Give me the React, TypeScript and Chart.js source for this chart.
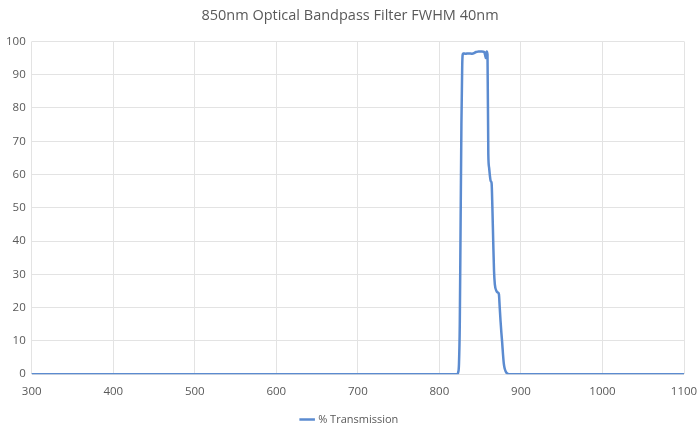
import React, { useEffect, useRef } from "react";
import { Chart, registerables } from "chart.js";

Chart.register(...registerables);

const titleText = "850nm Optical Bandpass Filter FWHM 40nm";
const seriesName = "% Transmission";

const wavelengths = [
  300, 400, 500, 600, 700, 800, 820, 822, 823, 824, 825, 826, 827, 828, 829,
  832, 836, 840, 845, 848, 852, 855, 856, 857, 858, 859, 860, 861, 862, 863,
  864, 865, 866, 867, 868, 870, 872, 873, 874, 875, 876, 877, 878, 879, 880,
  881, 882, 884, 886, 890, 900, 1000, 1100,
];
const transmission = [
  0, 0, 0, 0, 0, 0, 0, 0, 0.5, 3, 15, 45, 75, 93, 96.4,
  96.3, 96.4, 96.3, 96.8, 97, 97, 96.8, 96, 95, 97, 96, 66, 62, 59.5, 58,
  57.5, 50, 40, 31, 27, 25, 24.5, 24, 20, 16, 12.5, 9.5, 6, 3.2, 1.8,
  1, 0.5, 0.1, 0, 0, 0, 0, 0,
];

const xMin = 300;
const xMax = 1100;
const xStep = 100;
const yMin = 0;
const yMax = 100;
const yStep = 10;

const textColor = "#595959";
const gridColor = "#e3e3e3";
const lineColor = "#5b8bd0";
const fontFamily = "'Open Sans', 'Noto Sans', sans-serif";

export default function App() {
  const ref = useRef<HTMLCanvasElement | null>(null);

  useEffect(() => {
    document.body.style.margin = "0";
    const canvas = ref.current;
    if (!canvas) return;
    const points = wavelengths.map((x, i) => ({ x, y: transmission[i] }));
    const chart = new Chart(canvas, {
      type: "line",
      data: {
        datasets: [
          {
            label: seriesName,
            data: points,
            borderColor: lineColor,
            backgroundColor: lineColor,
            borderWidth: 2.5,
            borderJoinStyle: "round",
            borderCapStyle: "round",
            pointRadius: 0,
            cubicInterpolationMode: "monotone",
            fill: false,
          },
        ],
      },
      options: {
        animation: false,
        responsive: false,
        maintainAspectRatio: false,
        layout: { padding: { left: 0, right: 0, top: 0, bottom: -5 } },
        plugins: {
          title: {
            display: true,
            text: titleText,
            color: textColor,
            font: { family: fontFamily, size: 14.5, weight: "normal" },
            padding: { top: 7, bottom: 17 },
          },
          legend: {
            position: "bottom",
            labels: {
              color: textColor,
              font: { family: fontFamily, size: 11 },
              usePointStyle: true,
              pointStyle: "line",
              boxWidth: 20,
              padding: 4,
            },
          },
          tooltip: { enabled: false },
        },
        scales: {
          x: {
            type: "linear",
            min: xMin,
            max: xMax,
            afterFit: (scale: any) => {
              scale.paddingRight = 16;
            },
            ticks: {
              stepSize: xStep,
              maxRotation: 0,
              color: textColor,
              font: { family: fontFamily, size: 11.5 },
              padding: 11,
              callback: (v) => String(v),
            },
            grid: { color: gridColor, drawTicks: false },
            border: { display: false },
          },
          y: {
            min: yMin,
            max: yMax,
            ticks: {
              stepSize: yStep,
              color: textColor,
              font: { family: fontFamily, size: 11.5 },
              padding: 6,
              callback: (v) => String(v),
            },
            grid: { color: gridColor, drawTicks: false },
            border: { display: false },
          },
        },
      },
    });
    return () => chart.destroy();
  }, []);

  return (
    <div style={{ width: 700, height: 430 }}>
      <canvas ref={ref} width={700} height={430} />
    </div>
  );
}
